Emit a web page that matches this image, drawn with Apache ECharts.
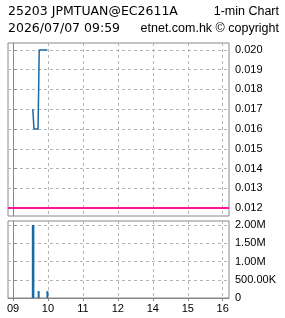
<!DOCTYPE html>
<html><head><meta charset="utf-8">
<script src="https://cdn.jsdelivr.net/npm/echarts@6/dist/echarts.min.js"></script>
<style>html,body{margin:0;padding:0;background:#fff}#c{width:285px;height:318px}</style>
</head><body><div id="c"></div>
<script>
// ---- data ----
const titleLeft1 = '25203 JPMTUAN@EC2611A';
const titleRight1 = '1-min Chart';
const titleLeft2 = '2026/07/07 09:59';
const titleRight2 = 'etnet.com.hk \u00a9 copyright';

const priceTimes = ['09:34', '09:35', '09:36', '09:43', '09:44', '09:45', '09:59'];
const priceValues = [0.017, 0.0165, 0.016, 0.016, 0.018, 0.020, 0.020];

const volTimes = ['09:34', '09:35', '09:44', '09:59'];
const volValues = [2000000, 2000000, 190000, 190000];

const refLine = 0.012;

const xTickHours = ['09', '10', '11', '12', '14', '15', '16'];
const xTickPos = [0, 60, 120, 180, 240, 300, 360];
const priceTicks = [0.012, 0.013, 0.014, 0.015, 0.016, 0.017, 0.018, 0.019, 0.020];
const volTicks = [0, 500000, 1000000, 1500000, 2000000];

// trading-minute index (lunch 12:00-13:00 collapsed)
function toX(t) {
  const p = t.split(':');
  let m = (+p[0] - 9) * 60 + (+p[1]);
  if (m >= 240) m -= 60;
  return m;
}
const priceData = priceTimes.map((t, i) => [toX(t), priceValues[i]]);
const volData = volTimes.map((t, i) => [toX(t), volValues[i]]);

function fmtVol(v) {
  if (v === 0) return '0';
  if (v >= 1000000) return (v / 1000000).toFixed(2) + 'M';
  return (v / 1000).toFixed(2) + 'K';
}

const chart = echarts.init(document.getElementById('c'), null, {renderer: 'canvas'});
const gridLine = {show: true, lineStyle: {color: '#b4b4b4', type: [3, 3], width: 1}};
const labelFont = {color: '#000', fontFamily: 'Liberation Sans', fontSize: 11};
const blue = '#1b6aa5';
const X_MIN = -8.6, X_MAX = 370.8;

chart.setOption({
  animation: false,
  backgroundColor: '#fff',
  graphic: [
    {type: 'text', left: 8, top: 5, style: {text: titleLeft1, font: '12.5px "DejaVu Sans"', fill: '#000'}},
    {type: 'text', right: 6, top: 5, style: {text: titleRight1, font: '12.5px "Liberation Sans"', fill: '#000'}},
    {type: 'text', left: 8, top: 22, style: {text: titleLeft2, font: '12.5px "DejaVu Sans"', fill: '#000'}},
    {type: 'text', right: 6, top: 22, style: {text: titleRight2, font: '12.5px "Liberation Sans"', fill: '#000'}}
  ],
  grid: [
    {left: 8, right: 56, top: 43, height: 173, show: true, borderColor: '#888', borderWidth: 1, containLabel: false},
    {left: 8, right: 56, top: 221, height: 77, show: true, borderColor: '#888', borderWidth: 1, containLabel: false}
  ],
  xAxis: [
    {type: 'value', gridIndex: 0, min: X_MIN, max: X_MAX,
     axisLine: {show: false}, axisLabel: {show: false, customValues: xTickPos},
     axisTick: {show: false, customValues: xTickPos}, splitLine: gridLine},
    {type: 'value', gridIndex: 1, min: X_MIN, max: X_MAX,
     axisLine: {show: true, onZero: false, lineStyle: {color: '#888'}},
     axisTick: {show: true, length: 3, customValues: xTickPos, lineStyle: {color: '#888'}},
     axisLabel: Object.assign({show: true, margin: 5, customValues: xTickPos,
       formatter: v => xTickHours[xTickPos.indexOf(v)]}, labelFont),
     splitLine: gridLine}
  ],
  yAxis: [
    {type: 'value', gridIndex: 0, position: 'right', min: 0.0116, max: 0.02035,
     axisLine: {show: true, lineStyle: {color: '#888'}},
     axisTick: {show: true, length: 4, customValues: priceTicks, lineStyle: {color: '#888'}},
     axisLabel: Object.assign({margin: 6, customValues: priceTicks, formatter: v => v.toFixed(3)}, labelFont),
     splitLine: gridLine},
    {type: 'value', gridIndex: 1, position: 'right', min: 0, max: 2110000,
     axisLine: {show: true, lineStyle: {color: '#888'}},
     axisTick: {show: true, length: 4, customValues: volTicks, lineStyle: {color: '#888'}},
     axisLabel: Object.assign({margin: 6, customValues: volTicks, formatter: fmtVol}, labelFont),
     splitLine: gridLine}
  ],
  series: [
    {type: 'line', xAxisIndex: 0, yAxisIndex: 0, data: priceData, showSymbol: false, symbol: 'none',
     lineStyle: {color: blue, width: 1.5}, z: 3,
     markLine: {symbol: ['none', 'none'], label: {show: false}, animation: false,
       lineStyle: {color: '#ff1493', width: 2, type: 'solid'},
       data: [[{coord: [X_MIN, refLine]}, {coord: [X_MAX, refLine]}]]}},
    {type: 'bar', xAxisIndex: 1, yAxisIndex: 1, data: volData, barWidth: 2,
     itemStyle: {color: blue}}
  ]
});
</script>
</body></html>
